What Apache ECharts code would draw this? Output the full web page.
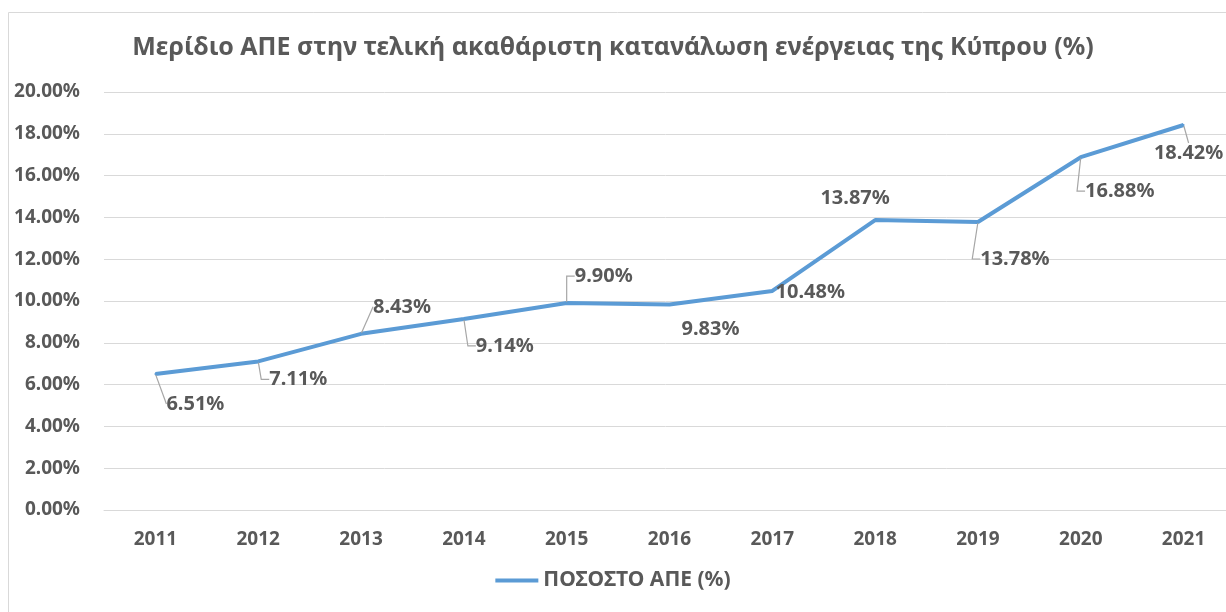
<!DOCTYPE html>
<html>
<head>
<meta charset="utf-8">
<script src="https://cdn.jsdelivr.net/npm/echarts@6/dist/echarts.min.js"></script>
<style>
  html, body { margin: 0; padding: 0; background: #fff; }
  #chart { width: 1226px; height: 612px; }
</style>
</head>
<body>
<div id="chart"></div>
<script>
// data
const years = ["2011", "2012", "2013", "2014", "2015", "2016", "2017", "2018", "2019", "2020", "2021"];
const shares = [6.51, 7.11, 8.43, 9.14, 9.90, 9.83, 10.48, 13.87, 13.78, 16.88, 18.42];
const seriesName = "ΠΟΣΟΣΤΟ ΑΠΕ (%)";
const titleText = "Μερίδιο ΑΠΕ στην τελική ακαθάριστη κατανάλωση ενέργειας της Κύπρου (%)";

// where each data label sits relative to its point, and whether it has a leader line
const labelOffsets = [[40, 30], [40, 18], [41, -27], [41, 27], [37, -27], [41, 25], [38, 1], [-20, -22], [37, 37], [39, 34], [5, 28]];
const showLeader = [true, true, true, true, true, false, false, false, true, true, true];
const leaderElbow = [0, 8, 0, 8, 8, 0, 0, 0, 8, 8, 0];

const font = "'Noto Sans', sans-serif";
const grey = "#595959";

const chart = echarts.init(document.getElementById("chart"));

const seriesData = shares.map((v, i) => ({
  value: v,
  labelLine: { show: showLeader[i], length2: leaderElbow[i] }
}));

chart.setOption({
  animation: false,
  textStyle: { fontFamily: font },
  graphic: [{
    type: "rect",
    shape: { x: 8.5, y: 12.5, width: 1240, height: 640 },
    style: { fill: "none", stroke: "#d9d9d9", lineWidth: 1 },
    silent: true
  }],
  title: {
    text: titleText,
    left: "center",
    top: 30,
    textStyle: { fontFamily: font, fontSize: 25, fontWeight: "bold", color: grey }
  },
  legend: {
    bottom: 16,
    left: "center",
    icon: "rect",
    itemWidth: 43,
    itemHeight: 4,
    textStyle: { fontFamily: font, fontSize: 21, fontWeight: "bold", color: grey }
  },
  grid: { left: 104, top: 92, width: 1131, height: 418, outerBoundsMode: "none" },
  xAxis: {
    type: "category",
    data: years,
    boundaryGap: true,
    axisLine: { show: true, lineStyle: { color: "#d9d9d9" } },
    axisTick: { show: false },
    axisLabel: { margin: 20, fontFamily: font, fontSize: 19, fontWeight: "bold", color: grey }
  },
  yAxis: {
    type: "value",
    min: 0,
    max: 20,
    interval: 2,
    axisLine: { show: false },
    axisTick: { show: false },
    splitLine: { lineStyle: { color: "#d9d9d9", width: 1 } },
    axisLabel: {
      margin: 24,
      fontFamily: font, fontSize: 19, fontWeight: "bold", color: grey,
      formatter: v => v.toFixed(2) + "%"
    }
  },
  series: [{
    name: seriesName,
    type: "line",
    data: seriesData,
    symbol: "circle",
    symbolSize: 2,
    showSymbol: true,
    itemStyle: { color: "#5b9bd5" },
    lineStyle: { color: "#5b9bd5", width: 4 },
    label: {
      show: true,
      position: "inside",
      fontFamily: font, fontSize: 20, fontWeight: "bold", color: grey,
      formatter: p => p.value.toFixed(2) + "%"
    },
    labelLine: {
      show: true,
      length2: 8,
      lineStyle: { color: "#a6a6a6", width: 1.2 }
    },
    labelLayout: p => {
      const off = labelOffsets[p.dataIndex];
      return {
        x: p.rect.x + p.rect.width / 2 + off[0],
        y: p.rect.y + p.rect.height / 2 + off[1],
        align: "center",
        verticalAlign: "middle"
      };
    }
  }]
});
</script>
</body>
</html>
